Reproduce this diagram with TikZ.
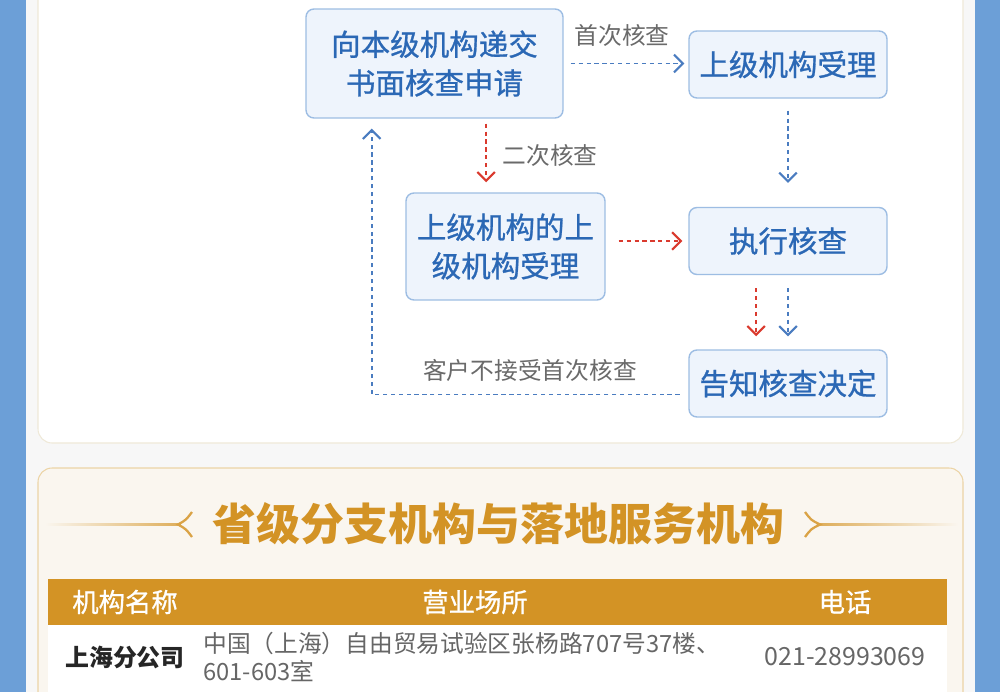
\documentclass[tikz,border=0pt]{standalone}
\usepackage{fontspec}
\setmainfont{Noto Sans CJK SC}
\newfontfamily\medfont{Noto Sans CJK SC}[FakeBold=0.9]
\usepackage{xcolor}
\usetikzlibrary{positioning,calc,arrows.meta}

\definecolor{sidebl}{HTML}{6C9FD7}
\definecolor{pagebg}{HTML}{F7F7F7}
\definecolor{cardln}{HTML}{EFE9D8}
\definecolor{boxfill}{HTML}{EEF4FC}
\definecolor{boxln}{HTML}{9DBDE3}
\definecolor{boxtxt}{HTML}{2B68B5}
\definecolor{arrbl}{HTML}{4A7CC0}
\definecolor{arrrd}{HTML}{DA3A2E}
\definecolor{lblgray}{HTML}{6A6A6A}
\definecolor{gold}{HTML}{D39325}
\definecolor{creambg}{HTML}{FAF6EF}
\definecolor{goldln}{HTML}{ECD4A6}

\begin{document}
\begin{tikzpicture}[x=0.02cm,y=-0.02cm,
    flowbox/.style={draw=boxln, fill=boxfill, rounded corners=4.5pt, line width=0.8pt,
        text=boxtxt, font=\medfont\fontsize{16.8}{22}\selectfont, align=center, inner sep=0pt},
    smallbox/.style={flowbox, minimum width=3.96cm, minimum height=1.34cm},
    barrow/.style={draw=arrbl, line width=1pt, dash pattern=on 2.4pt off 2.1pt,
        -{Straight Barb[length=5pt,width=10pt,line width=1.2pt]}},
    rarrow/.style={barrow, draw=arrrd},
    steplbl/.style={text=lblgray, font=\fontsize{13.5}{16}\selectfont, inner sep=0pt},
    headtxt/.style={text=white, font=\medfont\fontsize{15}{18}\selectfont, inner sep=0pt},
    celltxt/.style={text=black!60, font=\fontsize{13.5}{15.9}\selectfont, inner sep=0pt},
]
    \useasboundingbox (0,0) rectangle (1000,692);
    % Page
    \fill[pagebg] (0,0) rectangle (1000,692);
    \fill[sidebl] (0,0) rectangle (26,692);
    \fill[sidebl] (975,0) rectangle (1000,692);

    % Upper card
    \draw[cardln, fill=white, rounded corners=8pt, line width=0.6pt] (38,-30) rectangle (963,443);

    % Flow boxes
    \node[flowbox, minimum width=5.14cm, minimum height=2.18cm] (apply) at (434.5,63.5) {向本级机构递交\\书面核查申请};
    \node[smallbox] (upper) at (788,64.5) {上级机构受理};
    \node[flowbox, minimum width=3.98cm, minimum height=2.14cm] (upper2) at (505.5,246.5) {上级机构的上\\级机构受理};
    \node[smallbox] (check) at (788,241) {执行核查};
    \node[smallbox] (notify) at (788,383.5) {告知核查决定};

    % First check
    \draw[barrow, shorten <=4pt, shorten >=2.3pt] (apply.east) -- (apply.east -| upper.west);
    \node[steplbl] (firstlbl) at (622,35) {首次核查};
    \draw[barrow, shorten <=6.8pt, shorten >=13.6pt] (upper.south) -- (check.north);

    % Second check
    \coordinate (redtop) at ($(apply.south west)!0.7!(apply.south east)$);
    \draw[rarrow, shorten <=2.8pt, shorten >=5.7pt] (redtop) -- (redtop |- upper2.north);
    \node[steplbl] (secondlbl) at (550,155) {二次核查};
    \draw[rarrow, shorten <=7.4pt, shorten >=3.4pt] (check.west -| upper2.east) -- (check.west);

    % Down to decision
    \coordinate (redfoot) at ($(check.south west)!0.34!(check.south east)$);
    \draw[rarrow, shorten <=7.4pt, shorten >=7.4pt] (redfoot) -- (redfoot |- notify.north);
    \draw[barrow, shorten <=7.4pt, shorten >=7.4pt] (check.south) -- (notify.north);

    % Back loop
    \coordinate (backstart) at ([yshift=-6.2pt]notify.west);
    \coordinate (backtop) at ($(apply.south west)!0.257!(apply.south east)$);
    \draw[barrow, shorten <=5pt, shorten >=5.7pt] (backstart) -| (backtop);
    \node[steplbl] (backlbl) at (530,370) {客户不接受首次核查};

    % Lower card
    \draw[goldln, fill=creambg, rounded corners=8pt, line width=0.6pt] (38,468) rectangle (963,740);

    % Title with ornaments
    \node[text=gold, font=\fontsize{25}{30}\selectfont\bfseries, inner sep=0pt] (title) at (498.5,524) {省级分支机构与落地服务机构};
    \shade[left color=creambg, right color=gold!75] (45,523) rectangle (179,525.5);
    \draw[gold!85, line width=1.3pt] (192,512) .. controls (186,520) .. (178,524.5) .. controls (186,529) .. (192,537);
    \shade[left color=gold!75, right color=creambg] (820,523) rectangle (958,525.5);
    \draw[gold!85, line width=1.3pt] (805,512) .. controls (811,520) .. (820,524.5) .. controls (811,529) .. (805,537);

    % Table
    \fill[gold] (48,579) rectangle (947,625);
    \fill[white] (48,625) rectangle (947,700);
    \node[headtxt] (hname) at (125,602) {机构名称};
    \node[headtxt] (hplace) at (475,602) {营业场所};
    \node[headtxt] (hphone) at (845,602) {电话};
    \node[text=black!85, font=\fontsize{13.6}{16}\selectfont\bfseries, inner sep=0pt] (branch) at (125,657) {上海分公司};
    \node[celltxt, anchor=west, align=left] (addr) at (203,657) {中国（上海）自由贸易试验区张杨路707号37楼、\\601-603室};
    \node[celltxt, font=\fontsize{14.2}{16}\selectfont] (phone) at (845,657) {021-28993069};
\end{tikzpicture}
\end{document}
